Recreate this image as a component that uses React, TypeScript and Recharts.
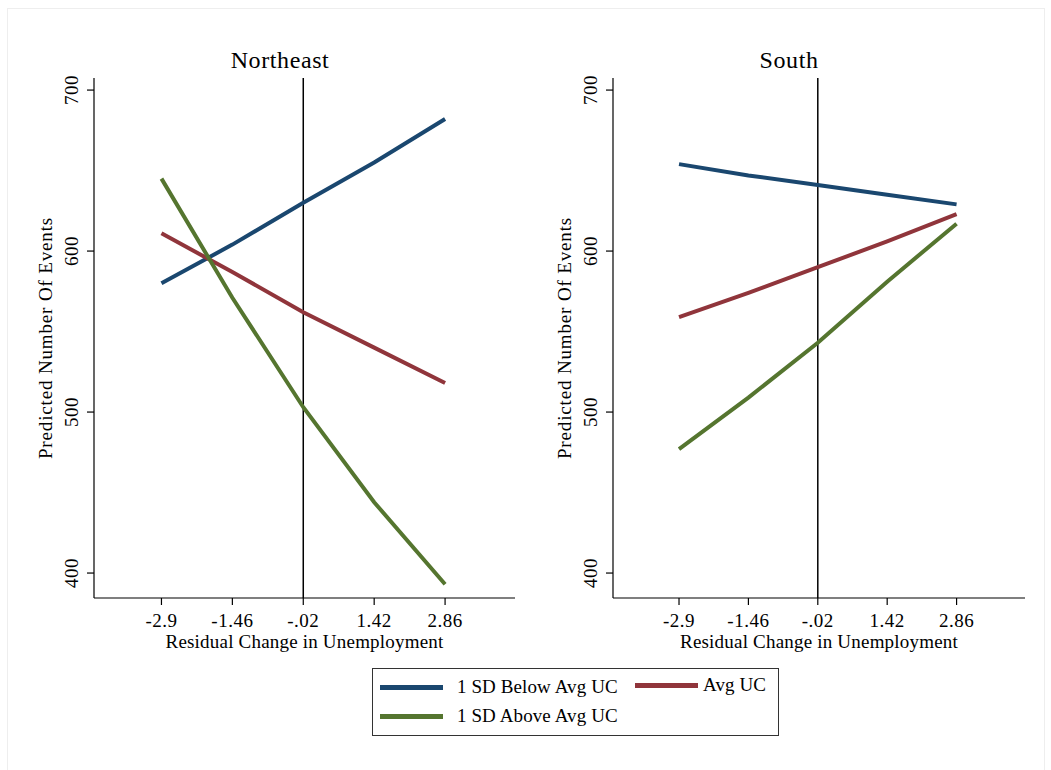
import React from "react";
import { LineChart, Line, XAxis, YAxis, ReferenceLine, Label } from "recharts";

const xValues = [-2.9, -1.46, -0.02, 1.42, 2.86];
const xTickLabels = ["-2.9", "-1.46", "-.02", "1.42", "2.86"];
const yTicks = [400, 500, 600, 700];

const neBelow = [580, 604, 630, 655, 682];
const neAvg = [611, 587, 562, 540, 518];
const neAbove = [645, 571, 503, 444, 393];

const soBelow = [654, 647, 641, 635, 629];
const soAvg = [559, 574, 590, 606, 623];
const soAbove = [477, 509, 543, 581, 617];

const seriesNames = ["1 SD Below Avg UC", "Avg UC", "1 SD Above Avg UC"];
const colors = ["#1a476f", "#90353b", "#55752f"];

const buildRows = (a: number[], b: number[], c: number[]) =>
  xValues.map((x, i) => ({ x, below: a[i], avg: b[i], above: c[i] }));

const FONT = "'Liberation Serif', 'DejaVu Serif', serif";

const YTick = (props: any) => {
  const { x, y, payload } = props;
  return (
    <text
      x={x - 7}
      y={y}
      transform={`rotate(-90, ${x - 7}, ${y})`}
      textAnchor="middle"
      fontFamily={FONT}
      fontSize={19}
      letterSpacing={0.5}
      fill="#000"
    >
      {payload.value}
    </text>
  );
};

const fmtX = (v: number) => {
  const i = xValues.indexOf(v);
  return i >= 0 ? xTickLabels[i] : String(v);
};

const Panel = ({ rows, title, rightMargin, titleX }: { rows: any[]; title: string; rightMargin: number; titleX: number }) => (
  <LineChart
    width={530}
    height={660}
    data={rows}
    margin={{ top: 78, right: rightMargin, bottom: 32, left: 60 }}
  >
    <XAxis
      dataKey="x"
      type="number"
      domain={[-4.27, 4.28]}
      ticks={xValues}
      tickFormatter={fmtX}
      interval={0}
      allowDataOverflow
      stroke="#000"
      strokeWidth={1.2}
      tickSize={7}
      tickMargin={9}
      tick={{ fill: "#000", fontFamily: FONT, fontSize: 19, letterSpacing: 0.5 }}
      height={30}
    >
      <Label
        value="Residual Change in Unemployment"
        position="insideBottom"
        offset={-20}
        style={{ fill: "#000", fontFamily: FONT, fontSize: 19, letterSpacing: 0.2 }}
      />
    </XAxis>
    <YAxis
      type="number"
      domain={[384.5, 707.5]}
      ticks={yTicks}
      allowDataOverflow
      stroke="#000"
      strokeWidth={1.2}
      tickSize={7}
      tick={<YTick />}
      width={34}
    >
      <Label
        value="Predicted Number Of Events"
        angle={-90}
        position="insideLeft"
        offset={-15}
        style={{ textAnchor: "middle", fill: "#000", fontFamily: FONT, fontSize: 19, letterSpacing: 0.85 }}
      />
    </YAxis>
    <ReferenceLine x={-0.02} stroke="#000" strokeWidth={1.5} ifOverflow="extendDomain" />
    <Line dataKey="below" stroke={colors[0]} strokeWidth={4} dot={false} isAnimationActive={false} />
    <Line dataKey="avg" stroke={colors[1]} strokeWidth={4} dot={false} isAnimationActive={false} />
    <Line dataKey="above" stroke={colors[2]} strokeWidth={4} dot={false} isAnimationActive={false} />
    <text x={titleX} y={68} textAnchor="middle" fontFamily={FONT} fontSize={24} letterSpacing={0.6} fill="#000">
      {title}
    </text>
  </LineChart>
);

const LegendItem = ({ color, label, left, top, gap }: any) => (
  <div style={{ position: "absolute", left, top, display: "flex", alignItems: "center" }}>
    <div style={{ width: 63, height: 5, background: color }} />
    <span style={{ marginLeft: gap, fontFamily: FONT, fontSize: 19, letterSpacing: 0.1, color: "#000", lineHeight: "20px", whiteSpace: "nowrap" }}>{label}</span>
  </div>
);

export default function App() {
  const ne = buildRows(neBelow, neAvg, neAbove);
  const so = buildRows(soBelow, soAvg, soAbove);
  return (
    <div style={{ position: "absolute", left: 0, top: 0, width: 1051, height: 770, background: "#fff", overflow: "hidden" }}>
      <div style={{ position: "absolute", left: 7, top: 8, width: 1036, height: 770, border: "1px solid #eeeeee" }} />
      <div style={{ position: "absolute", left: 0, top: 0 }}>
        <Panel rows={ne} title="Northeast" rightMargin={15} titleX={280} />
      </div>
      <div style={{ position: "absolute", left: 519, top: 0 }}>
        <Panel rows={so} title="South" rightMargin={24} titleX={270} />
      </div>
      <div style={{ position: "absolute", left: 372, top: 668, width: 405, height: 66, border: "1px solid #333" }}>
        <LegendItem color={colors[0]} label={seriesNames[0]} left={7} top={8} gap={14} />
        <LegendItem color={colors[1]} label={seriesNames[1]} left={262} top={6} gap={5} />
        <LegendItem color={colors[2]} label={seriesNames[2]} left={7} top={37} gap={14} />
      </div>
    </div>
  );
}
